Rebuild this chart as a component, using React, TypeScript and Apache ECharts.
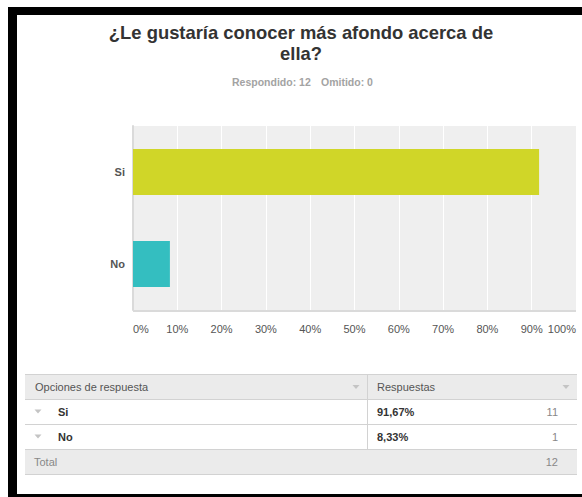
import React, { useEffect, useRef } from "react";
import * as echarts from "echarts";

const titleLines = ["¿Le gustaría conocer más afondo acerca de", "ella?"];
const answered = 12;
const skipped = 0;
const categories = ["Si", "No"];
const percents = [91.67, 8.33];
const counts = [11, 1];
const total = 12;
const axisMin = 0;
const axisMax = 100;
const axisInterval = 10;
const barColors = ["#d0d628", "#34bec0"];
const tableHeaders = ["Opciones de respuesta", "Respuestas"];
const totalLabel = "Total";

const FONT = "'Liberation Sans', Arial, sans-serif";

function fmtPct(v: number) {
  return v.toFixed(2).replace(".", ",") + "%";
}

export default function App() {
  const ref = useRef<HTMLDivElement>(null);
  useEffect(() => {
    if (!ref.current) return;
    const chart = echarts.init(ref.current, null, { renderer: "svg" });

    const tri = (cx: number, cy: number) => ({
      type: "polygon",
      silent: true,
      shape: { points: [[cx - 3.5, cy - 2], [cx + 3.5, cy - 2], [cx, cy + 2]] },
      style: { fill: "#c4c4c4" },
    });
    const hline = (y: number) => ({
      type: "line",
      silent: true,
      shape: { x1: 25, y1: y, x2: 577, y2: y },
      style: { stroke: "#d2d2d2", lineWidth: 1 },
    });
    const txt = (x: number, y: number, text: string, opts: any = {}) => ({
      type: "text",
      silent: true,
      x,
      y,
      style: {
        text,
        fill: opts.fill || "#555",
        font: `${opts.bold ? "bold " : ""}${opts.size || 11}px ${FONT}`,
        align: opts.align || "left",
        verticalAlign: "middle",
      },
    });

    const rowYs = [411.5, 436.5];
    const rowEls: any[] = [];
    categories.forEach((c, i) => {
      rowEls.push(tri(38, rowYs[i]));
      rowEls.push(txt(58, rowYs[i], c, { bold: true, fill: "#333" }));
      rowEls.push(txt(377, rowYs[i], fmtPct(percents[i]), { bold: true, fill: "#333" }));
      rowEls.push(txt(558, rowYs[i], String(counts[i]), { align: "right", fill: "#888" }));
    });

    chart.setOption({
      animation: false,
      backgroundColor: "transparent",
      grid: {
        left: 133,
        top: 126,
        right: 6,
        bottom: 187,
        show: true,
        backgroundColor: "#efefef",
        borderWidth: 0,
        containLabel: false,
      },
      xAxis: {
        type: "value",
        min: axisMin,
        max: axisMax,
        interval: axisInterval,
        axisLine: { show: false },
        axisTick: { show: false },
        splitLine: { show: true, lineStyle: { color: "#ffffff", width: 1 } },
        axisLabel: {
          color: "#555",
          fontSize: 11,
          fontFamily: FONT,
          margin: 13,
          showMinLabel: true,
          showMaxLabel: true,
          alignMinLabel: "left",
          alignMaxLabel: "right",
          formatter: "{value}%",
        },
      },
      yAxis: {
        type: "category",
        data: categories,
        inverse: true,
        axisLine: { show: true, lineStyle: { color: "#dadada", width: 2 } },
        axisTick: { show: false },
        splitLine: { show: false },
        axisLabel: {
          color: "#555",
          fontSize: 11,
          fontWeight: "bold",
          fontFamily: FONT,
          margin: 8,
        },
      },
      series: [
        {
          type: "bar",
          barWidth: "50%",
          data: percents.map((v, i) => ({ value: v, itemStyle: { color: barColors[i] } })),
          silent: true,
        },
      ],
      graphic: [
        {
          type: "line",
          silent: true,
          shape: { x1: 133, y1: 311, x2: 576, y2: 311 },
          style: { stroke: "#dadada", lineWidth: 2 },
        },
        txt(301, 32, titleLines[0], { bold: true, size: 18.4, fill: "#333", align: "center" }),
        txt(301, 53, titleLines[1], { bold: true, size: 18.4, fill: "#333", align: "center" }),
        txt(232, 82, `Respondido: ${answered}`, { bold: true, size: 10.5, fill: "#a3a3a3" }),
        txt(321, 82, `Omitido: ${skipped}`, { bold: true, size: 10.5, fill: "#a3a3a3" }),
        {
          type: "rect",
          silent: true,
          shape: { x: 25, y: 374, width: 552, height: 25 },
          style: { fill: "#ebebeb" },
        },
        {
          type: "rect",
          silent: true,
          shape: { x: 25, y: 449, width: 552, height: 25 },
          style: { fill: "#ebebeb" },
        },
        hline(374.5),
        hline(399.5),
        hline(424.5),
        hline(449.5),
        hline(474.5),
        {
          type: "line",
          silent: true,
          shape: { x1: 367.5, y1: 374, x2: 367.5, y2: 449 },
          style: { stroke: "#d2d2d2", lineWidth: 1 },
        },
        txt(35, 387, tableHeaders[0], { fill: "#555" }),
        txt(377, 387, tableHeaders[1], { fill: "#555" }),
        tri(356, 387),
        tri(566, 387),
        ...rowEls,
        txt(34, 462, totalLabel, { fill: "#888" }),
        txt(558, 462, String(total), { align: "right", fill: "#888" }),
      ],
    });
    return () => chart.dispose();
  }, []);

  return (
    <div style={{ position: "absolute", left: 0, top: 0, width: 582, height: 497, background: "#fff", overflow: "hidden" }}>
      <div style={{ position: "absolute", left: 8, top: 7, width: 574, height: 490, background: "#000" }} />
      <div style={{ position: "absolute", left: 17, top: 15, width: 565, height: 479, background: "#fff" }} />
      <div ref={ref} style={{ position: "absolute", left: 0, top: 0, width: 582, height: 497 }} />
    </div>
  );
}
